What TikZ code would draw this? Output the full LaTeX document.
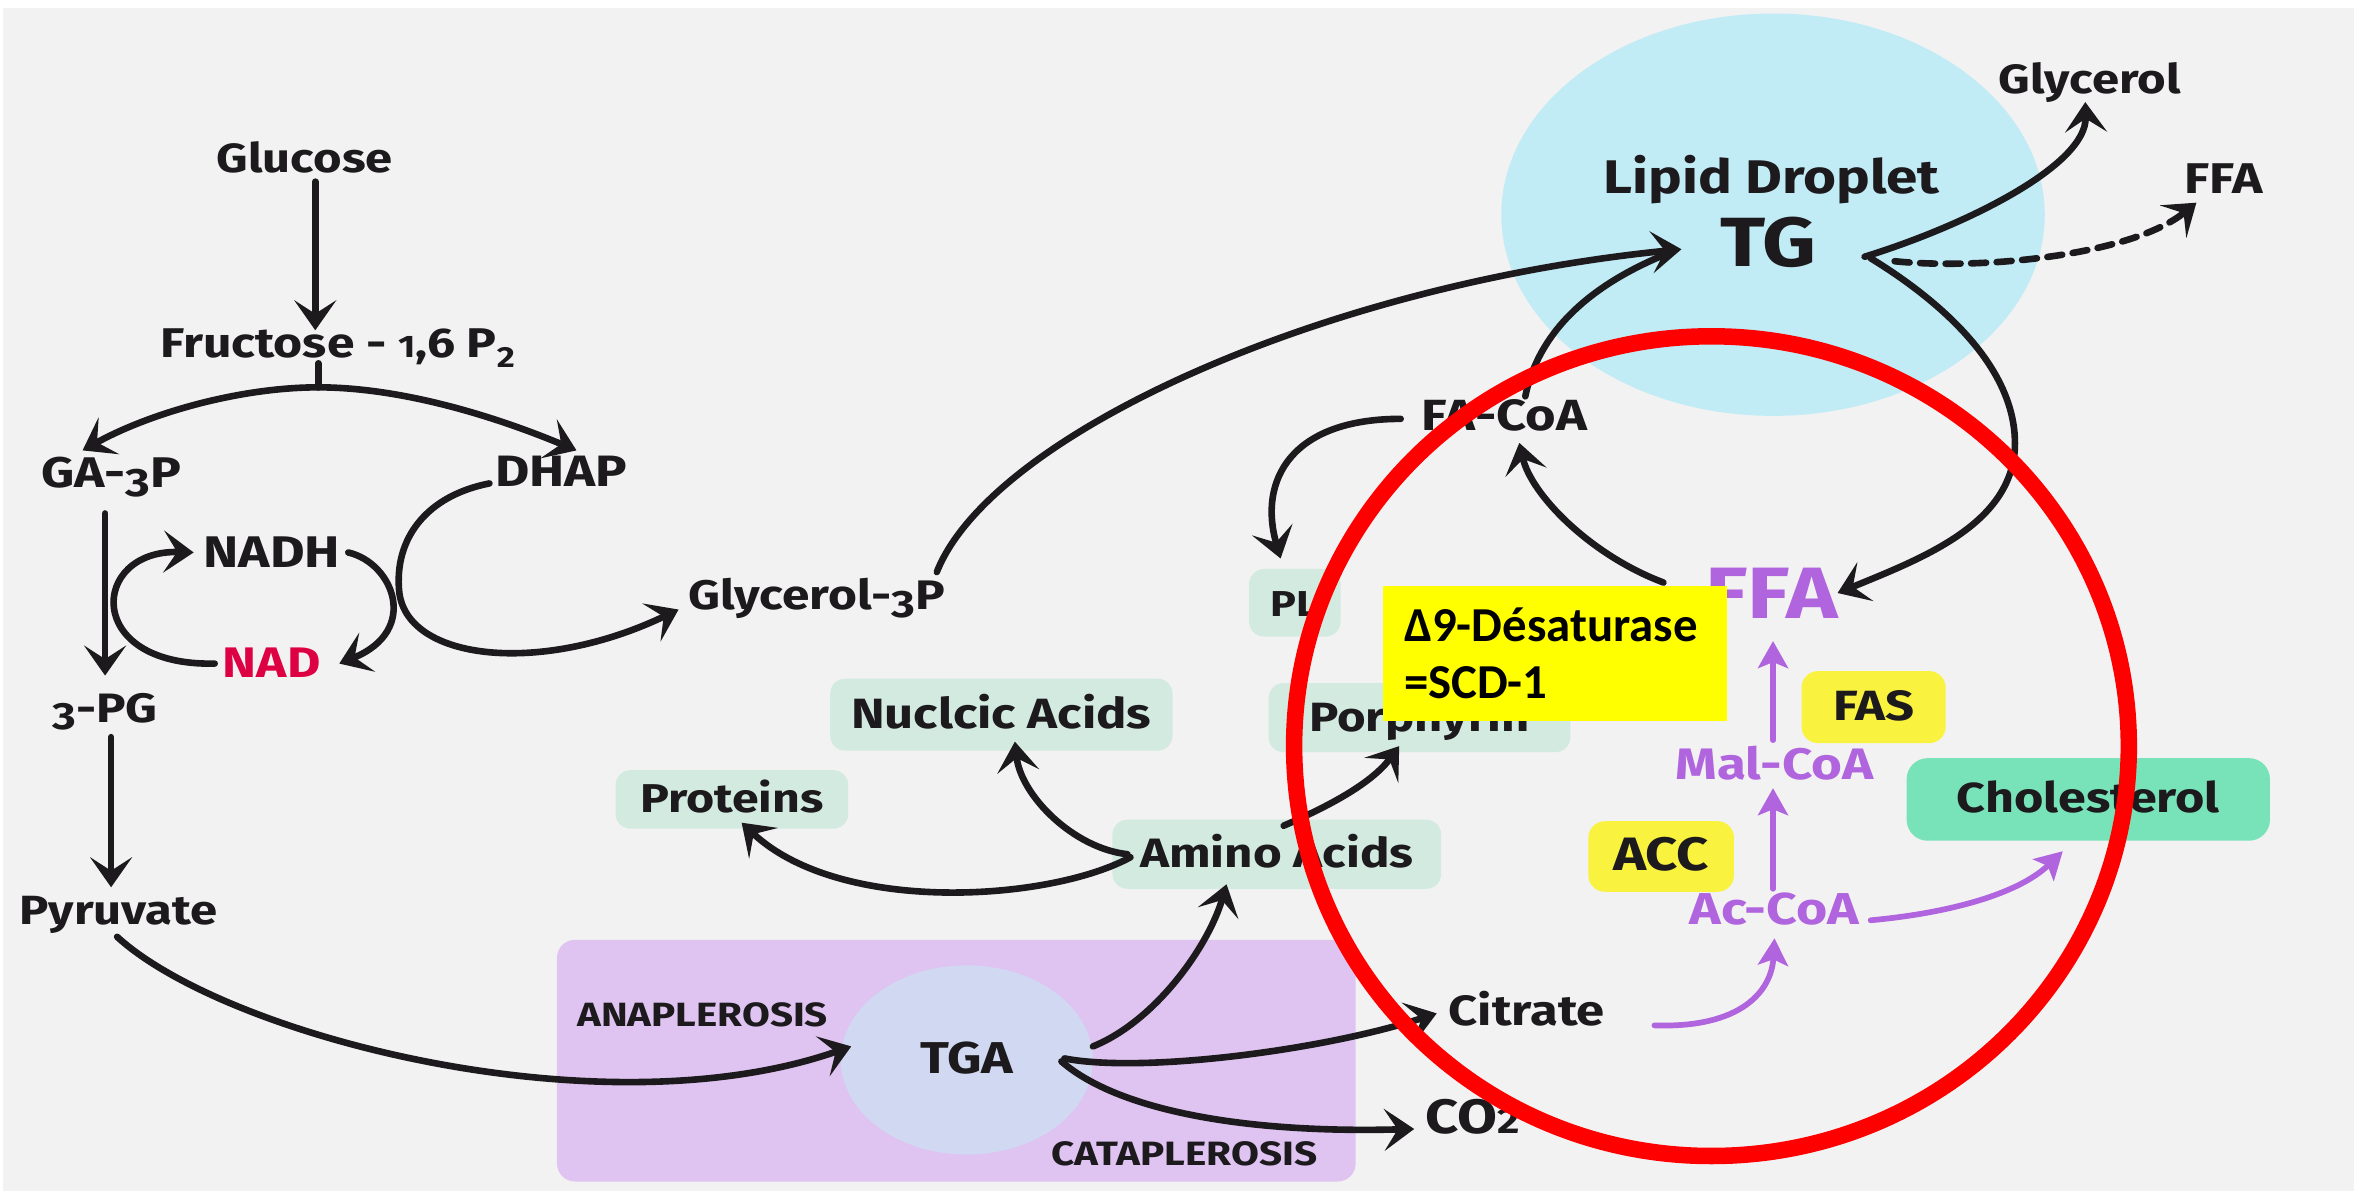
\documentclass[tikz,border=0pt]{standalone}
\usepackage{fontspec}
\usepackage{graphicx}
\usetikzlibrary{arrows.meta,shapes.geometric,calc}
\newfontfamily\labfont{Fira Sans}[FakeStretch=1.2]
\newfontfamily\calfont{Carlito}
\definecolor{bg}{HTML}{F2F2F2}
\definecolor{ink}{HTML}{1C1A1C}
\definecolor{nadred}{HTML}{DD0042}
\definecolor{lgreen}{HTML}{D3EAE0}
\definecolor{cholgreen}{HTML}{78E2B9}
\definecolor{lpurple}{HTML}{DFC3F1}
\definecolor{tgablue}{HTML}{D1D8F1}
\definecolor{dropblue}{HTML}{C1EBF5}
\definecolor{purp}{HTML}{B064DE}
\definecolor{yel}{HTML}{F9F33F}
\definecolor{brightyel}{HTML}{FFFF00}
\definecolor{ringred}{HTML}{FF0000}
\newcommand\tw[2]{\resizebox{#1pt}{!}{#2}}
% old-style figure imitations
\newcommand\osdesc[1]{\raisebox{-3.8pt}{\fontsize{18.5}{18.5}\selectfont #1}}
\newcommand\osx[1]{{\fontsize{15}{15}\selectfont #1}}
\begin{document}
\begin{tikzpicture}[x=1pt,y=-1pt,
  lbl/.style={inner sep=0pt, text height=18pt, text depth=0pt, text=ink,
    font={\labfont\bfseries\fontsize{20}{24}\selectfont}},
  gbox/.style={lbl, fill=lgreen, rounded corners=10pt},
  ybox/.style={lbl, fill=yel, rounded corners=11pt},
  arr/.style={draw=ink, line width=4.4pt, line cap=round,
    -{Stealth[length=20pt,width=28pt,inset=9pt]}},
  plain/.style={draw=ink, line width=4.4pt, line cap=round},
  parr/.style={draw=purp, line width=3.8pt, line cap=round,
    -{Stealth[length=18pt,width=20pt,inset=4pt]}},
  ptxt/.style={lbl, text=purp}]
\useasboundingbox (0,0) rectangle (1568,793);
\fill[white] (0,0) rectangle (1568,793);
\fill[bg] (2,5) rectangle (1568,793);

% background shapes
\node[ellipse, fill=dropblue, minimum width=362pt, minimum height=268pt, inner sep=0pt] (droplet) at (1181,143) {};
\node[fill=lpurple, rounded corners=12pt, minimum width=532pt, minimum height=161pt, inner sep=0pt] (cyclebox) at (637,706.5) {};
\node[lbl, ellipse, fill=tgablue, minimum width=168pt, minimum height=126pt] (tga) at (644,706) {\tw{62}{TGA}};

% boxes
\node[gbox, minimum width=155pt, minimum height=39pt] (proteins) at (487.5,532.5) {\tw{122}{Proteins}};
\node[gbox, minimum width=228pt, minimum height=48pt] (nucleic) at (667,476) {\tw{200}{Nuclcic Acids}};
\node[gbox, minimum width=219pt, minimum height=46pt] (amino) at (850.5,569) {\tw{182}{Amino Acids}};
\node[gbox, minimum width=201pt, minimum height=46pt] (porph) at (945.5,478) {\tw{147}{Porphyrin}};
\node[gbox, minimum width=61pt, minimum height=45pt] (pl) at (862.5,401.5) {\tw{32}{PL}};
\node[gbox, fill=cholgreen, rounded corners=14pt, minimum width=242pt, minimum height=55pt] (chol) at (1391,532.5) {\tw{175}{Cholesterol}};
\node[ybox, minimum width=96pt, minimum height=48pt] (fas) at (1248,471) {\tw{54}{FAS}};
\node[ybox, minimum width=97pt, minimum height=47pt] (acc) at (1106.5,570.5) {\tw{64}{ACC}};

% text nodes
\node[lbl] (glucose) at (203,106) {\tw{117}{Glucose}};
\node[lbl] (fructose) at (225,229) {\tw{236}{Fructose - \osx{1},6 P\raisebox{-5pt}{\fontsize{14}{14}\selectfont 2}}};
\node[lbl] (ga3p) at (74,316) {\tw{93}{GA-\osdesc{3}P}};
\node[lbl] (dhap) at (374,315) {\tw{88}{DHAP}};
\node[lbl] (nadh) at (181,369) {\tw{91}{NADH}};
\node[lbl, text=nadred] (nad) at (181,442) {\tw{65}{NAD}};
\node[lbl] (pg3) at (70,472) {\tw{70}{\osdesc{3}-PG}};
\node[lbl] (pyruvate) at (79,607) {\tw{132}{Pyruvate}};
\node[lbl] (g3p) at (544,397) {\tw{171}{Glycerol-\osdesc{3}P}};
\node[lbl, text height=15pt] (ana) at (468,676.5) {\tw{167}{ANAPLEROSIS}};
\node[lbl, text height=15pt] (cata) at (789,769) {\tw{177}{CATAPLEROSIS}};
\node[lbl] (citrate) at (1017,674) {\tw{104}{Citrate}};
\node[lbl] (co2) at (981,746) {\tw{63}{CO\osx{2}}};
\node[lbl] (facoa) at (1002,278) {\tw{110}{FA-CoA}};
\node[lbl, text height=20pt] (lipid) at (1180,119) {\tw{224}{Lipid Droplet}};
\node[lbl, text height=27pt] (tg) at (1178,164) {\tw{64}{TG}};
\node[lbl] (glycerol) at (1392,53) {\tw{121}{Glycerol}};
\node[lbl] (ffab) at (1481,120) {\tw{52}{FFA}};
\node[ptxt, text height=28pt] (ffap) at (1180,398) {\tw{88}{FFA}};
\node[ptxt] (malcoa) at (1182,510) {\tw{132}{Mal-CoA}};
\node[ptxt] (accoa) at (1182,607) {\tw{113}{Ac-CoA}};
\coordinate (fork) at (212,258);

% black connectors
\draw[arr] ($(glucose)+(7,15)$) -- ($(fructose)+(-15,-9)$);
\draw[plain] ($(fructose)+(-13,13)$) -- (fork);
\draw[arr] (fork) .. controls (160,258) and (100,275) .. ($(ga3p)+(-19,-16)$);
\draw[arr] (fork) .. controls (264,258) and (324,275) .. ($(dhap)+(10,-15)$);
\draw[arr] ($(ga3p)+(-4,26)$) -- ($(pg3)+(0,-22)$);
\draw[arr] ($(nad)+(-38,0)$) .. controls (55,444) and (60,366) .. ($(nadh)+(-52,-1)$);
\draw[arr] ($(nadh)+(51,-1)$) .. controls (262,375) and (280,420) .. ($(nad)+(45,0)$);
\draw[arr] ($(dhap)+(-48,7)$) .. controls (285,330) and (262,358) .. (266,395)
   .. controls (272,440) and (360,450) .. ($(g3p)+(-92,9)$);
\draw[arr] ($(pg3)+(4,19)$) -- ($(pyruvate)+(-5,-16)$);
\draw[arr] ($(pyruvate)+(-1,17)$) .. controls (150,690) and (400,755) .. ($(tga)+(-77,-9)$);
\draw[arr] ($(g3p)+(80,-16)$) .. controls (660,290) and (880,190) .. ($(tg)+(-58,2)$);
\draw[plain] ($(facoa)+(14,-14)$) .. controls (1025,220) and (1060,190) .. ($(tg)+(-70,6)$);
\draw[arr] ($(facoa)+(-69,1)$) .. controls (860,279) and (838,320) .. ($(pl)+(-9.5,-29.5)$);
\draw[arr] ($(ffap)+(-72,-10)$) .. controls (1060,370) and (1020,330) .. ($(facoa)+(10,17)$);
\draw[arr] ($(tg)+(68,8)$) .. controls (1300,205) and (1345,250) .. (1342,300)
   .. controls (1338,350) and (1280,372) .. ($(ffap)+(44,-3)$);
\draw[arr] ($(tg)+(64,7)$) .. controls (1310,150) and (1390,110) .. ($(glycerol)+(-3,15)$);
\draw[arr, dash pattern=on 10pt off 7pt] ($(tg)+(84,10)$) .. controls (1320,180) and (1420,170) .. ($(ffab)+(-18,15)$);
\draw[arr] ($(amino)+(-97.5,2)$) .. controls (700,600) and (560,610) .. ($(proteins)+(6.5,15.5)$);
\draw[arr] ($(amino)+(-99.5,0)$) .. controls (715,565) and (680,530) .. ($(nucleic)+(9,18)$);
\draw[arr] ($(amino)+(4.5,-19)$) .. controls (890,535) and (915,520) .. ($(porph)+(-13.5,19)$);
\draw[arr] ($(tga)+(84,-9)$) .. controls (770,680) and (805,630) .. ($(amino)+(-33.5,20)$);
\draw[arr] ($(tga)+(65,-1)$) .. controls (760,715) and (880,700) .. ($(citrate)+(-60,1)$);
\draw[arr] ($(tga)+(63,1)$) .. controls (745,740) and (830,755) .. ($(co2)+(-39,6)$);

% purple connectors
\draw[parr] ($(malcoa)+(-1,-17)$) -- ($(ffap)+(1,29)$);
\draw[parr] ($(accoa)+(-1,-15)$) -- ($(malcoa)+(-1,15)$);
\draw[parr] ($(citrate)+(85,9)$) .. controls (1160,685) and (1180,660) .. ($(accoa)+(0,18)$);
\draw[parr] ($(accoa)+(64,6)$) .. controls (1300,608) and (1345,595) .. ($(chol)+(-17,34.5)$);

% annotation box
\node[fill=brightyel, anchor=north west, minimum width=229pt, minimum height=90pt,
      inner xsep=14pt, inner ysep=0pt, align=left, text width=201pt,
      font={\calfont\bfseries\fontsize{32.5}{38}\selectfont}] (desat) at (921,390)
      {Δ9-Désaturase\\=SCD-1};

% red ring
\node[ellipse, draw=ringred, line width=11pt, minimum width=556pt, minimum height=546pt, inner sep=0pt] (ring) at (1140,497) {};
\end{tikzpicture}
\end{document}
